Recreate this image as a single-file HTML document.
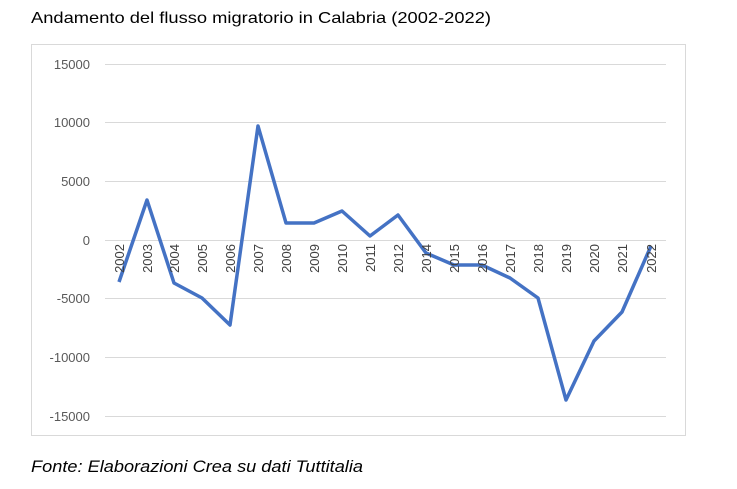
<!DOCTYPE html>
<html><head><meta charset="utf-8"><style>
body{margin:0;background:#fff;width:737px;height:484px;overflow:hidden;font-family:"Liberation Sans",sans-serif}
</style></head><body>
<svg width="737" height="484" xmlns="http://www.w3.org/2000/svg" font-family="Liberation Sans, sans-serif">
<rect x="0" y="0" width="737" height="484" fill="#fff"/>
<text x="31" y="23" font-size="16" textLength="460" lengthAdjust="spacingAndGlyphs" fill="#000">Andamento del flusso migratorio in Calabria (2002-2022)</text>
<rect x="31.5" y="44.5" width="654" height="391" fill="none" stroke="#d9d9d9"/>
<g stroke="#d9d9d9" stroke-width="1">
<line x1="105" x2="666" y1="64.5" y2="64.5"/>
<line x1="105" x2="666" y1="122.5" y2="122.5"/>
<line x1="105" x2="666" y1="181.5" y2="181.5"/>
<line x1="105" x2="666" y1="240.5" y2="240.5"/>
<line x1="105" x2="666" y1="298.5" y2="298.5"/>
<line x1="105" x2="666" y1="357.5" y2="357.5"/>
<line x1="105" x2="666" y1="416.5" y2="416.5"/>
</g>
<g font-size="13" fill="#595959" text-anchor="end">
<text x="90" y="69">15000</text>
<text x="90" y="127">10000</text>
<text x="90" y="186">5000</text>
<text x="90" y="245">0</text>
<text x="90" y="303">-5000</text>
<text x="90" y="362">-10000</text>
<text x="90" y="421">-15000</text>
</g>
<polyline fill="none" stroke="#4472c4" stroke-width="3.5" stroke-linejoin="round" points="119,282 147,200 174,283 202,298 230,325 258,126 286,223 314,223 342,211 370,236 398,215 426,253 454,265 482,265 510,278 538,298 566,400 594,341 622,312 651,246"/>
<g font-size="13" fill="#404040" text-anchor="end">
<text transform="translate(124,244) rotate(-90)">2002</text>
<text transform="translate(152,244) rotate(-90)">2003</text>
<text transform="translate(179,244) rotate(-90)">2004</text>
<text transform="translate(207,244) rotate(-90)">2005</text>
<text transform="translate(235,244) rotate(-90)">2006</text>
<text transform="translate(263,244) rotate(-90)">2007</text>
<text transform="translate(291,244) rotate(-90)">2008</text>
<text transform="translate(319,244) rotate(-90)">2009</text>
<text transform="translate(347,244) rotate(-90)">2010</text>
<text transform="translate(375,244) rotate(-90)">2011</text>
<text transform="translate(403,244) rotate(-90)">2012</text>
<text transform="translate(431,244) rotate(-90)">2014</text>
<text transform="translate(459,244) rotate(-90)">2015</text>
<text transform="translate(487,244) rotate(-90)">2016</text>
<text transform="translate(515,244) rotate(-90)">2017</text>
<text transform="translate(543,244) rotate(-90)">2018</text>
<text transform="translate(571,244) rotate(-90)">2019</text>
<text transform="translate(599,244) rotate(-90)">2020</text>
<text transform="translate(627,244) rotate(-90)">2021</text>
<text transform="translate(656,244) rotate(-90)">2022</text>
</g>
<text x="31" y="472" font-size="17" font-style="italic" textLength="332" lengthAdjust="spacingAndGlyphs" fill="#000">Fonte: Elaborazioni Crea su dati Tuttitalia</text>
</svg>
</body></html>
